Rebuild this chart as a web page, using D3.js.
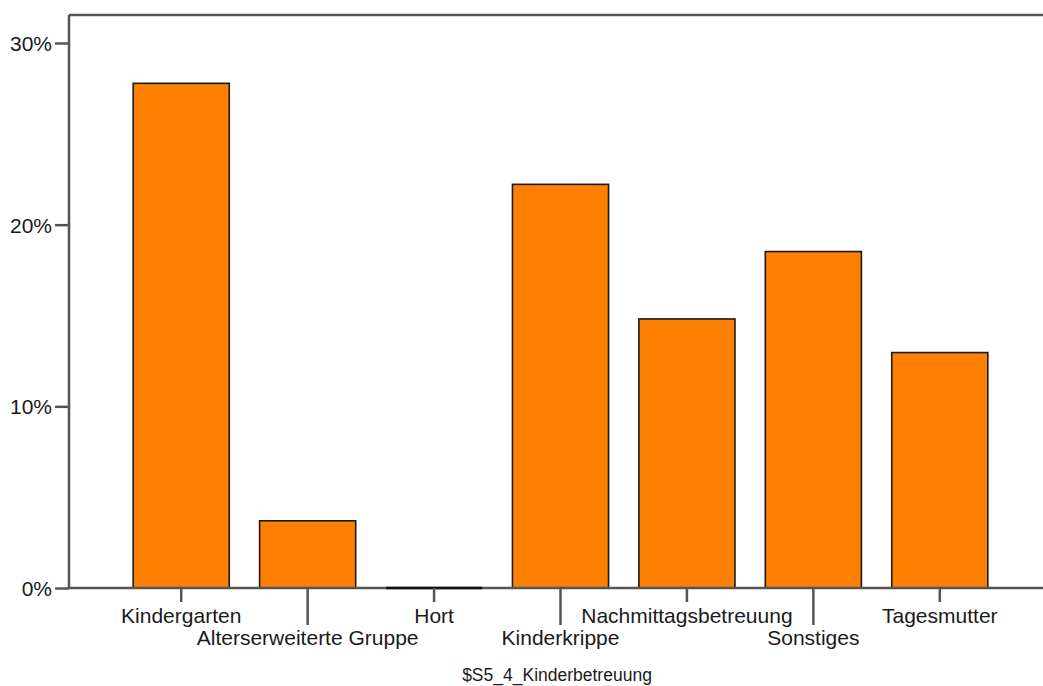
<!DOCTYPE html>
<html>
<head>
<meta charset="utf-8">
<script src="https://cdn.jsdelivr.net/npm/d3@7"></script>
<style>
  html, body { margin: 0; padding: 0; background: #fff; }
  svg { display: block; }
  text { font-family: "Liberation Sans", Arial, sans-serif; fill: #1a1a1a; }
</style>
</head>
<body>
<svg id="chart" width="1043" height="686"></svg>
<script>
const categories = ["Kindergarten", "Alterserweiterte Gruppe", "Hort", "Kinderkrippe", "Nachmittagsbetreuung", "Sonstiges", "Tagesmutter"];
const percentValues = [27.78, 3.70, 0, 22.22, 14.81, 18.52, 12.96];
const yTickValues = [0, 10, 20, 30];
const xAxisTitle = "$S5_4_Kinderbetreuung";

(function () {
const W = 1043, H = 686;
const plotLeft = 69, plotTop = 15, plotBottom = 588;
const svg = d3.select("#chart");

const y = d3.scaleLinear().domain([0, 30]).range([plotBottom, 43]);
const x = d3.scaleBand().domain(categories).range([118, 1003]).paddingInner(0.24).paddingOuter(0.12);

const axisColor = "#555";
svg.append("line").attr("x1", plotLeft).attr("x2", W).attr("y1", plotTop).attr("y2", plotTop)
  .attr("stroke", axisColor).attr("stroke-width", 2.5);
svg.append("line").attr("x1", plotLeft).attr("x2", plotLeft).attr("y1", plotTop).attr("y2", plotBottom)
  .attr("stroke", axisColor).attr("stroke-width", 2.5);

svg.append("g").selectAll("rect").data(categories.map((c, i) => ({c, v: percentValues[i]})))
  .join("rect")
  .attr("x", d => x(d.c))
  .attr("width", x.bandwidth())
  .attr("y", d => y(d.v))
  .attr("height", d => plotBottom - y(d.v))
  .attr("fill", "#FF8000")
  .attr("stroke", "#1a1a1a")
  .attr("stroke-width", 1.6);

svg.append("line").attr("x1", plotLeft).attr("x2", W).attr("y1", plotBottom).attr("y2", plotBottom)
  .attr("stroke", axisColor).attr("stroke-width", 2.5);

svg.append("g").selectAll("line").data(categories.filter((c, i) => percentValues[i] === 0))
  .join("line")
  .attr("x1", d => x(d)).attr("x2", d => x(d) + x.bandwidth())
  .attr("y1", plotBottom).attr("y2", plotBottom)
  .attr("stroke", "#111").attr("stroke-width", 2.5);

const yAxis = d3.axisLeft(y).tickValues(yTickValues).tickFormat(d => d + "%").tickSize(14).tickPadding(3);
const gy = svg.append("g").attr("transform", `translate(${plotLeft},0)`).call(yAxis);
gy.select(".domain").remove();
gy.selectAll(".tick line").attr("stroke", axisColor).attr("stroke-width", 2.5);
gy.selectAll(".tick text").attr("font-size", 21).attr("fill", "#1a1a1a")
  .attr("font-family", "'Liberation Sans', Arial, sans-serif").attr("dy", "0.35em");

const xt = svg.append("g");
categories.forEach((c, i) => {
  const cx = x(c) + x.bandwidth() / 2;
  const odd = i % 2 === 1;
  xt.append("line").attr("x1", cx).attr("x2", cx).attr("y1", plotBottom).attr("y2", odd ? 625 : 602)
    .attr("stroke", axisColor).attr("stroke-width", 2.5);
  xt.append("text").attr("x", cx).attr("y", odd ? 645 : 622.5)
    .attr("text-anchor", "middle").attr("font-size", 21).text(c);
});

svg.append("text").attr("x", 557).attr("y", 680.5).attr("text-anchor", "middle")
  .attr("font-size", 17.5).text(xAxisTitle);
})();
</script>
</body>
</html>
